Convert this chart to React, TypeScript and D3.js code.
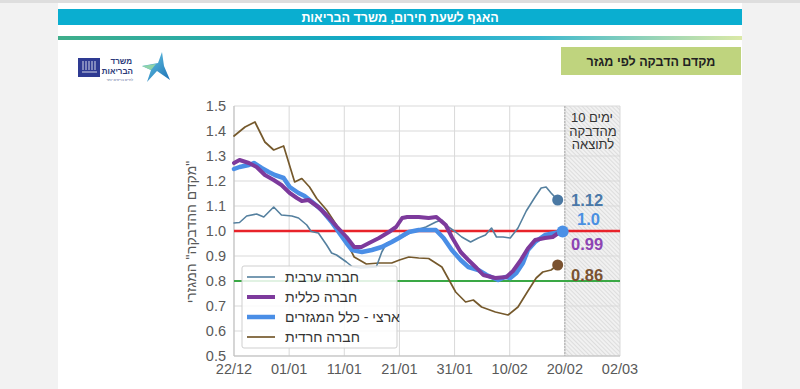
import { useEffect, useRef } from 'react';
import * as d3 from 'd3';

const [width, height] = [800, 389];
const startDate = new Date(2020, 11, 22);

// x ticks: every 10 days from 22/12
const tickDays = [0, 10, 20, 30, 40, 50, 60, 70];
const yTicks = [0.5, 0.6, 0.7, 0.8, 0.9, 1.0, 1.1, 1.2, 1.3, 1.4, 1.5];

const seriesNames = ['חברה ערבית', 'חברה כללית', 'ארצי - כלל המגזרים', 'חברה חרדית'];
const endLabels = ['1.12', '0.99', '1.0', '0.86'];
const lagNote = ['מהדבקה', 'לתוצאה'];

// [day offset from 22/12, R]
const arab: [number, number][] = [
    [0, 1.032], [1, 1.034], [2.3, 1.06], [4.1, 1.068], [5.4, 1.056], [7.2, 1.096], [8.6, 1.064],
    [10.5, 1.06], [11.7, 1.052], [13.2, 1.024], [14, 0.998], [15.3, 0.992], [16.8, 0.944],
    [17.7, 0.912], [18.6, 0.904], [20.4, 0.876], [21.4, 0.858], [23, 0.852], [25.8, 0.856],
    [26.8, 0.916], [27.7, 0.952], [29.4, 0.964], [31.2, 0.984], [33, 1.004], [34.8, 1.016],
    [36.6, 1.036], [37.7, 1.044], [38.9, 1.016], [40.2, 0.996], [41.3, 0.976], [42.9, 0.956],
    [44.3, 0.972], [45.6, 0.984], [46.7, 1.012], [47.6, 0.976], [48.8, 0.976], [50.1, 0.972],
    [51.5, 1.012], [53, 1.08], [54.6, 1.136], [55.7, 1.172], [56.6, 1.176], [57.5, 1.152], [58.7, 1.124]
];
const general: [number, number][] = [
    [0, 1.272], [1, 1.284], [2.7, 1.272], [4.1, 1.256], [5.6, 1.224], [7.2, 1.204], [8.6, 1.184],
    [10.1, 1.152], [11.4, 1.132], [12.3, 1.12], [13.5, 1.124], [15.3, 1.096], [17.1, 1.056],
    [18.7, 1.016], [20.4, 0.976], [21.8, 0.936], [23.1, 0.936], [24.5, 0.952], [26.3, 0.972],
    [28.1, 0.996], [29.4, 1.016], [30.5, 1.052], [31.4, 1.056], [33.5, 1.056], [35.3, 1.052],
    [36.7, 1.056], [38.4, 1.024], [39.5, 0.976], [41.1, 0.916], [42.5, 0.884], [44, 0.852],
    [45.2, 0.824], [47.4, 0.812], [49.4, 0.816], [50.6, 0.84], [51.9, 0.88], [53.3, 0.93],
    [54.6, 0.964], [56.4, 0.972], [57.8, 0.976], [58.7, 0.99]
];
const national: [number, number][] = [
    [0, 1.248], [1, 1.256], [2.7, 1.264], [3.6, 1.272], [5, 1.252], [6.3, 1.236], [7.4, 1.224],
    [9, 1.212], [10.1, 1.176], [11.7, 1.152], [12.8, 1.14], [14.4, 1.112], [15.9, 1.084],
    [17.7, 1.036], [19.1, 0.992], [20.4, 0.952], [21.4, 0.924], [23.2, 0.916], [25, 0.924],
    [26.8, 0.936], [28.6, 0.956], [29.9, 0.972], [31.7, 0.996], [33.5, 1.004], [36.6, 1.004],
    [38, 0.972], [39.5, 0.924], [41.1, 0.884], [42.5, 0.856], [44.3, 0.844], [45.8, 0.824],
    [47.9, 0.804], [49.2, 0.816], [50.1, 0.812], [51.2, 0.832], [52.4, 0.872], [53.3, 0.924],
    [54.6, 0.956], [56.4, 0.984], [58.2, 0.992], [59.6, 0.998]
];
const haredi: [number, number][] = [
    [0, 1.38], [2, 1.416], [3.8, 1.436], [5.6, 1.356], [7.2, 1.324], [9, 1.34], [11, 1.196],
    [12.3, 1.21], [13.7, 1.176], [15, 1.13], [16.8, 1.084], [19.6, 0.99], [21.8, 0.896],
    [24, 0.868], [26.3, 0.872], [28.6, 0.872], [30, 0.884], [31.7, 0.896], [33.5, 0.892],
    [35.3, 0.89], [37.7, 0.856], [39, 0.804], [40.2, 0.756], [42, 0.716], [43.4, 0.724],
    [44.9, 0.696], [47.4, 0.676], [49.7, 0.664], [51.5, 0.696], [53.3, 0.76], [54.8, 0.812],
    [56, 0.836], [57.5, 0.844], [58.7, 0.864]
];

const dateAt = (d: number) => new Date(startDate.getTime() + d * 864e5);

function App() {
    const node = useRef<SVGSVGElement>(null);
    useEffect(() => {
        if (!node.current) return;
        const svg = d3.select(node.current);
        svg.selectAll('*').remove();
        const font = 'Liberation Sans, Arial, sans-serif';

        const defs = svg.append('defs');
        const grad = defs.append('linearGradient').attr('id', 'bar-grad');
        [['0%', '#3fae8a'], ['45%', '#10a9c9'], ['70%', '#3bb8cf'], ['100%', '#dbe9a6']].forEach(([o, c]) =>
            grad.append('stop').attr('offset', o).attr('stop-color', c));
        const star = defs.append('linearGradient').attr('id', 'star-grad').attr('x1', 0).attr('y1', 0).attr('x2', 1).attr('y2', 1);
        star.append('stop').attr('offset', '0%').attr('stop-color', '#6fd0e8');
        star.append('stop').attr('offset', '100%').attr('stop-color', '#1a6fb5');
        const hatch = defs.append('pattern').attr('id', 'hatch').attr('patternUnits', 'userSpaceOnUse')
            .attr('width', 3).attr('height', 3).attr('patternTransform', 'rotate(-45)');
        hatch.append('rect').attr('width', 3).attr('height', 3).attr('fill', '#f1f1f1');
        hatch.append('line').attr('x1', 0).attr('y1', 0).attr('x2', 0).attr('y2', 3).attr('stroke', '#c9c9c9').attr('stroke-width', 1);

        // page frame
        svg.append('rect').attr('width', width).attr('height', height).attr('fill', '#f2f2f2');
        svg.append('rect').attr('width', width).attr('height', 3).attr('fill', '#dedede');
        svg.append('rect').attr('x', 58).attr('y', 3).attr('width', 684).attr('height', height - 3).attr('fill', '#fff');
        svg.append('rect').attr('x', 58).attr('y', 9).attr('width', 684).attr('height', 16).attr('fill', '#0aaed0');
        svg.append('text').attr('x', 400).attr('y', 21.5).attr('text-anchor', 'middle')
            .attr('font-family', font).attr('font-size', 12.5).attr('font-weight', 'bold').attr('fill', '#fff')
            .text('האגף לשעת חירום, משרד הבריאות');
        svg.append('rect').attr('x', 58).attr('y', 36).attr('width', 684).attr('height', 4).attr('fill', 'url(#bar-grad)');

        svg.append('rect').attr('x', 561).attr('y', 47).attr('width', 180).attr('height', 28).attr('fill', '#bfd47e');
        svg.append('text').attr('x', 651).attr('y', 65.5).attr('text-anchor', 'middle')
            .attr('font-family', font).attr('font-size', 12.5).attr('font-weight', 'bold').attr('fill', '#222')
            .text('מקדם הדבקה לפי מגזר');

        // logos
        const logo = svg.append('g');
        logo.append('rect').attr('x', 78).attr('y', 58).attr('width', 22).attr('height', 19).attr('fill', '#2e3a92');
        d3.range(5).forEach(i => logo.append('line').attr('x1', 83 + i * 3).attr('x2', 83 + i * 3)
            .attr('y1', 61).attr('y2', 70).attr('stroke', '#fff').attr('stroke-width', 0.8));
        logo.append('line').attr('x1', 82).attr('x2', 97).attr('y1', 72).attr('y2', 72).attr('stroke', '#fff').attr('stroke-width', 0.8);
        logo.append('text').attr('x', 132).attr('y', 64).attr('text-anchor', 'end').attr('font-family', font)
            .attr('font-size', 8).attr('font-weight', 'bold').attr('fill', '#2b3a7a').text('משרד');
        logo.append('text').attr('x', 133).attr('y', 74).attr('text-anchor', 'end').attr('font-family', font)
            .attr('font-size', 8).attr('font-weight', 'bold').attr('fill', '#2b3a7a').text('הבריאות');
        logo.append('text').attr('x', 133).attr('y', 80.5).attr('text-anchor', 'end').attr('font-family', font)
            .attr('font-size', 3.5).attr('fill', '#5a6a9a').text('לחיים בריאים יותר');
        logo.append('polygon').attr('points', '142,66 158,63 162,52 164,66 170,80 157,71 147,82 151,70')
            .attr('fill', 'url(#star-grad)');
        logo.append('polygon').attr('points', '142,66 156,64 151,70').attr('fill', '#8fd3a8');

        // chart
        const x = d3.scaleTime().domain([dateAt(0), dateAt(70)]).range([234, 620]);
        const y = d3.scaleLinear().domain([0.5, 1.5]).range([356, 106]);
        const fmt = d3.timeFormat('%d/%m');

        svg.append('rect').attr('x', x(dateAt(60))).attr('y', y(1.5)).attr('width', x(dateAt(70)) - x(dateAt(60)))
            .attr('height', y(0.5) - y(1.5)).attr('fill', 'url(#hatch)');

        const grid = svg.append('g').attr('stroke', '#d9d9d9').attr('stroke-width', 1);
        yTicks.forEach(t => grid.append('line').attr('x1', 234).attr('x2', 620).attr('y1', y(t)).attr('y2', y(t)));
        tickDays.forEach(d => grid.append('line').attr('x1', x(dateAt(d))).attr('x2', x(dateAt(d))).attr('y1', y(1.5)).attr('y2', y(0.5)));
        svg.append('line').attr('x1', x(dateAt(60))).attr('x2', x(dateAt(60))).attr('y1', y(1.5)).attr('y2', y(0.5))
            .attr('stroke', '#a8a8a8').attr('stroke-dasharray', '2,1');
        svg.append('line').attr('x1', 234).attr('x2', 234).attr('y1', y(1.5)).attr('y2', y(0.5)).attr('stroke', '#bfbfbf');
        svg.append('line').attr('x1', 234).attr('x2', 620).attr('y1', y(0.5)).attr('y2', y(0.5)).attr('stroke', '#bfbfbf');

        svg.append('g').selectAll('text').data(yTicks).enter().append('text')
            .attr('x', 226).attr('y', d => y(d)).attr('dy', '0.35em').attr('text-anchor', 'end')
            .attr('font-family', font).attr('font-size', 14.5).attr('fill', '#595959').text(d => d.toFixed(1));
        svg.append('g').selectAll('text').data(tickDays).enter().append('text')
            .attr('x', d => x(dateAt(d))).attr('y', 374).attr('text-anchor', 'middle')
            .attr('font-family', font).attr('font-size', 14.5).attr('fill', '#595959').text(d => fmt(dateAt(d)));
        svg.append('text').attr('transform', 'translate(196,232) rotate(-90)').attr('text-anchor', 'middle')
            .attr('font-family', font).attr('font-size', 14).attr('fill', '#595959')
            .text('\u200F"מקדם ההדבקה" המגזרי');

        // "10 ימים" split in two pieces so the number stays on the left
        svg.append('text').attr('x', 571).attr('y', 122).attr('font-family', font).attr('font-size', 13)
            .attr('fill', '#333').text('10');
        svg.append('text').attr('x', 589).attr('y', 122).attr('font-family', font).attr('font-size', 13)
            .attr('fill', '#333').text('ימים');
        lagNote.forEach((t, i) => svg.append('text')
            .attr('x', 593).attr('y', 135.5 + i * 13.5).attr('text-anchor', 'middle')
            .attr('font-family', font).attr('font-size', 13).attr('fill', '#333').text(t));

        // reference lines
        svg.append('line').attr('x1', 234).attr('x2', 620).attr('y1', y(0.8)).attr('y2', y(0.8))
            .attr('stroke', '#3aa845').attr('stroke-width', 2);
        svg.append('line').attr('x1', 234).attr('x2', 620).attr('y1', y(1.0)).attr('y2', y(1.0))
            .attr('stroke', '#e8232a').attr('stroke-width', 2.5);

        const line = d3.line<[number, number]>().x(d => x(dateAt(d[0]))).y(d => y(d[1]));
        const styles = [
            { data: arab, color: '#55809f', w: 1.6, dot: 5.5, dotColor: '#4a78a3', lab: '#4a78a8', dy: 0 },
            { data: general, color: '#7d3a9c', w: 4, dot: 0, dotColor: '#7d3a9c', lab: '#8d44b3', dy: 11 },
            { data: national, color: '#4a8ee6', w: 4.5, dot: 6, dotColor: '#4a90e6', lab: '#4a90e2', dy: -12 },
            { data: haredi, color: '#75592c', w: 1.7, dot: 5.5, dotColor: '#7a5230', lab: '#7a5230', dy: 10 }
        ];
        const order = [3, 0, 2, 1];
        order.forEach(i => {
            const s = styles[i];
            svg.append('path').attr('d', line(s.data)!).attr('fill', 'none').attr('stroke', s.color)
                .attr('stroke-width', s.w).attr('stroke-linejoin', 'round').attr('stroke-linecap', 'round');
        });
        order.forEach(i => {
            const s = styles[i];
            const last = s.data[s.data.length - 1];
            if (s.dot) svg.append('circle').attr('cx', x(dateAt(last[0]))).attr('cy', y(last[1])).attr('r', s.dot).attr('fill', s.dotColor);
            svg.append('text').attr('x', i === 2 ? 577 : 571).attr('y', y(last[1]) + s.dy).attr('dy', '0.36em')
                .attr('font-family', font).attr('font-size', 16.5).attr('font-weight', 'bold').attr('fill', s.lab)
                .text(endLabels[i]);
        });

        // legend
        const lg = svg.append('g');
        lg.append('rect').attr('x', 242).attr('y', 266).attr('width', 155).attr('height', 82).attr('rx', 2)
            .attr('fill', '#fff').attr('fill-opacity', 0.85).attr('stroke', '#cfcfcf');
        seriesNames.forEach((n, i) => {
            const ry = 277 + i * 20;
            lg.append('line').attr('x1', 247).attr('x2', 275).attr('y1', ry).attr('y2', ry)
                .attr('stroke', styles[i].color).attr('stroke-width', styles[i].w);
            lg.append('text').attr('x', 285).attr('y', ry).attr('dy', '0.35em').attr('font-family', font)
                .attr('font-size', 14).attr('fill', '#333').text(n);
        });
    }, [node]);

    return (
        <div style={{ position: 'fixed', left: 0, top: 0 }}>
            <svg ref={node} width={width} height={height} style={{ display: 'block' }}></svg>
        </div>
    );
}

export default App;
